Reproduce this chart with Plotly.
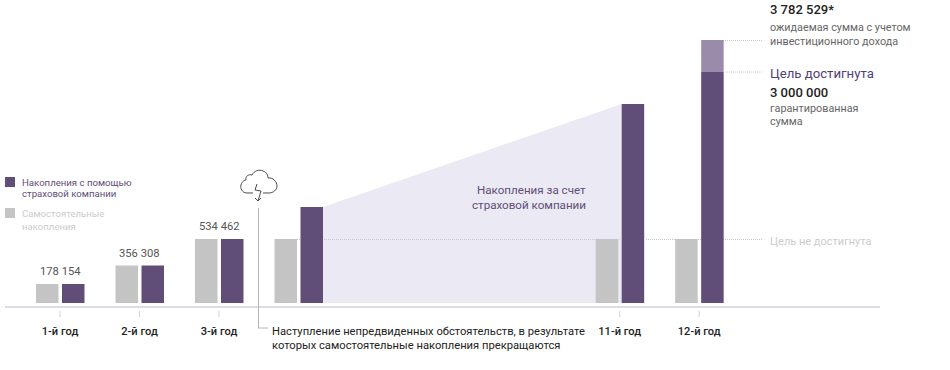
import plotly.graph_objects as go

W, H = 950, 370
PURPLE = "#604e78"; LIGHT = "#9a8bab"; GREY = "#c4c4c4"; AREA = "#ebe9f3"
FONT = "Roboto"

# chart data (heights: the bars are schematic, not to scale)
years = ["1-й год", "2-й год", "3-й год", "", "11-й год", "12-й год"]
slots = [0, 1, 2, 3, 7.04, 8.04]
own_savings = [19, 37.5, 64, 64, 64, 64]
insured_savings = [19, 37.5, 64, 96, 199, 231]
expected_extra = [0, 0, 0, 0, 0, 32]
value_labels = ["178 154", "356 308", "534 462"]

SLOT_PX = 79.5; X0_PX = 60; BASE_PX = 303
L, R = 5, 880
xrange_ = [(L - X0_PX) / SLOT_PX, (R - X0_PX) / SLOT_PX]
yrange_ = [BASE_PX - H, BASE_PX]
BW = 22.5 / SLOT_PX
OFF_G = -24 / SLOT_PX
OFF_P = 2 / SLOT_PX
XD = [L / W, R / W]


def px(x):
    return x / W


def py(y):
    return 1 - y / H


def P(x, y):
    return f"{px(x):.5f},{py(y):.5f}"


fig = go.Figure()
fig.add_trace(go.Scatter(
    x=[slots[3] + OFF_P + BW, slots[3] + OFF_P + BW, slots[4] + OFF_P, slots[4] + OFF_P],
    y=[0, insured_savings[3], insured_savings[4], 0],
    mode="lines", line=dict(width=0), fill="toself", fillcolor=AREA,
    hoverinfo="skip", showlegend=False))
fig.add_trace(go.Bar(x=slots, y=own_savings, width=BW, offset=OFF_G, marker=dict(color=GREY, line=dict(width=0)),
                     name="Самостоятельные накопления", xaxis="x2", yaxis="y2", showlegend=False))
fig.add_trace(go.Bar(x=slots, y=insured_savings, width=BW, offset=OFF_P, marker=dict(color=PURPLE, line=dict(width=0)),
                     name="Накопления с помощью страховой компании", xaxis="x2", yaxis="y2", showlegend=False))
fig.add_trace(go.Bar(x=slots, y=expected_extra, base=insured_savings, width=BW, offset=OFF_P,
                     marker=dict(color=LIGHT, line=dict(width=0)),
                     name="Инвестиционный доход", xaxis="x2", yaxis="y2", showlegend=False))

shapes = []


def seg(x0, y0, x1, y1, color, width=1, dash="solid"):
    shapes.append(dict(type="line", xref="paper", yref="paper", x0=px(x0), y0=py(y0), x1=px(x1), y1=py(y1),
                       line=dict(color=color, width=width, dash=dash), layer="above"))


def rect(x0, y0, x1, y1, color):
    shapes.append(dict(type="rect", xref="paper", yref="paper", x0=px(x0), y0=py(y0), x1=px(x1), y1=py(y1),
                       fillcolor=color, line=dict(width=0)))


DOT = "#c9c8d2"
for a, b in [(297, 301), (324, 596), (619, 622), (646, 675), (698, 701), (725, 762)]:
    seg(a, 239.5, b, 239.5, DOT, 1, "1px,1px")
seg(725, 40.5, 762, 40.5, DOT, 1, "1px,1px")
seg(725, 72, 762, 72, DOT, 1, "1px,1px")

for s, lab in zip(slots, years):
    if lab:
        shapes.append(dict(type="line", xref="x", yref="paper", x0=s, x1=s, y0=py(311), y1=py(317),
                           line=dict(color="#d0d0d6", width=1)))

seg(258.5, 208, 258.5, 328, "#b4b4b4", 1)
seg(258, 328, 268, 328, "#b4b4b4", 1)

cloud = (f"M {P(253,193)} L {P(247,193)} C {P(242,193)} {P(240,188)} {P(241,185)} "
         f"C {P(242,181)} {P(245,180)} {P(246,180)} C {P(245,176)} {P(249,174)} {P(252,175)} "
         f"C {P(254,171)} {P(259,169)} {P(263,171)} C {P(267,172)} {P(268,176)} {P(268,178)} "
         f"C {P(273,177)} {P(277,182)} {P(277,186)} C {P(277,190)} {P(273,193)} {P(269,193)} L {P(263,193)}")
bolt = (f"M {P(257,184)} L {P(255,190)} L {P(261,191)} L {P(258,201)} "
        f"M {P(255,198)} L {P(258,201)} L {P(261,198)}")
for d in (cloud, bolt):
    shapes.append(dict(type="path", xref="paper", yref="paper", path=d, line=dict(color="#4a4a4a", width=1)))

rect(5, 177, 15, 187, PURPLE)
rect(5, 208, 15, 218, GREY)

anns = []


def txt(x, y, s, color="#666", size=12, anchor="left", weight=None):
    f = dict(family=FONT, size=size, color=color)
    if weight:
        f["weight"] = weight
    anns.append(dict(xref="paper", yref="paper", x=px(x), y=py(y), text=s, showarrow=False, xanchor=anchor,
                     yanchor="middle", font=f, align=anchor, borderpad=0, borderwidth=0))


for s, h, lab in zip(slots, own_savings, value_labels):
    anns.append(dict(xref="x", yref="y", x=s, y=h, text=lab, showarrow=False, xanchor="center", yanchor="bottom",
                     yshift=4, font=dict(family=FONT, size=11.2, color="#555")))

txt(22, 182, "Накопления с помощью", PURPLE, 9.6)
txt(22, 193, "страховой компании", PURPLE, 9.6)
txt(22, 213, "Самостоятельные", "#cccccc", 9.6)
txt(22, 226, "накопления", "#cccccc", 9.6)
txt(586, 190, "Накопления за счет", PURPLE, 11.6, "right")
txt(586, 205, "страховой компании", PURPLE, 11.6, "right")
txt(272, 331, "Наступление непредвиденных обстоятельств, в результате", "#222", 11.2)
txt(272, 345, "которых самостоятельные накопления прекращаются", "#222", 11.2)
txt(770, 10, "3 782 529*", "#222", 13, weight=500)
txt(770, 27, "ожидаемая сумма с учетом", "#666", 10.8)
txt(770, 42, "инвестиционного дохода", "#666", 10.8)
txt(770, 73, "Цель достигнута", "#523f75", 13.2)
txt(770, 92, "3 000 000", "#222", 13, weight=500)
txt(770, 108, "гарантированная", "#666", 10.8)
txt(770, 122, "сумма", "#666", 10.8)
txt(770, 241, "Цель не достигнута", "#cccccc", 11)

tickvals = [s for s, l in zip(slots, years) if l]
ticktext = [l for l in years if l]
fig.update_layout(
    width=W, height=H, autosize=False, margin=dict(l=0, r=0, t=0, b=0),
    paper_bgcolor="white", plot_bgcolor="white", barmode="overlay", showlegend=False,
    hovermode=False,
    xaxis=dict(domain=XD, range=xrange_, anchor="free", position=py(306.5), showgrid=False, zeroline=False,
               showline=True, linecolor="#dcdbe6", linewidth=2, tickmode="array", tickvals=tickvals,
               ticktext=ticktext, ticks="", ticklabelstandoff=14,
               tickfont=dict(family=FONT, size=11.1, color="#222", weight=500)),
    yaxis=dict(domain=[0, 1], range=yrange_, visible=False),
    xaxis2=dict(domain=XD, range=xrange_, overlaying="x", visible=False),
    yaxis2=dict(domain=[0, 1], range=yrange_, overlaying="y", visible=False),
    shapes=shapes, annotations=anns,
)
fig.write_html("out.html", config=dict(displayModeBar=False),
               post_script="document.body.style.margin='0';document.body.style.overflow='hidden';")
